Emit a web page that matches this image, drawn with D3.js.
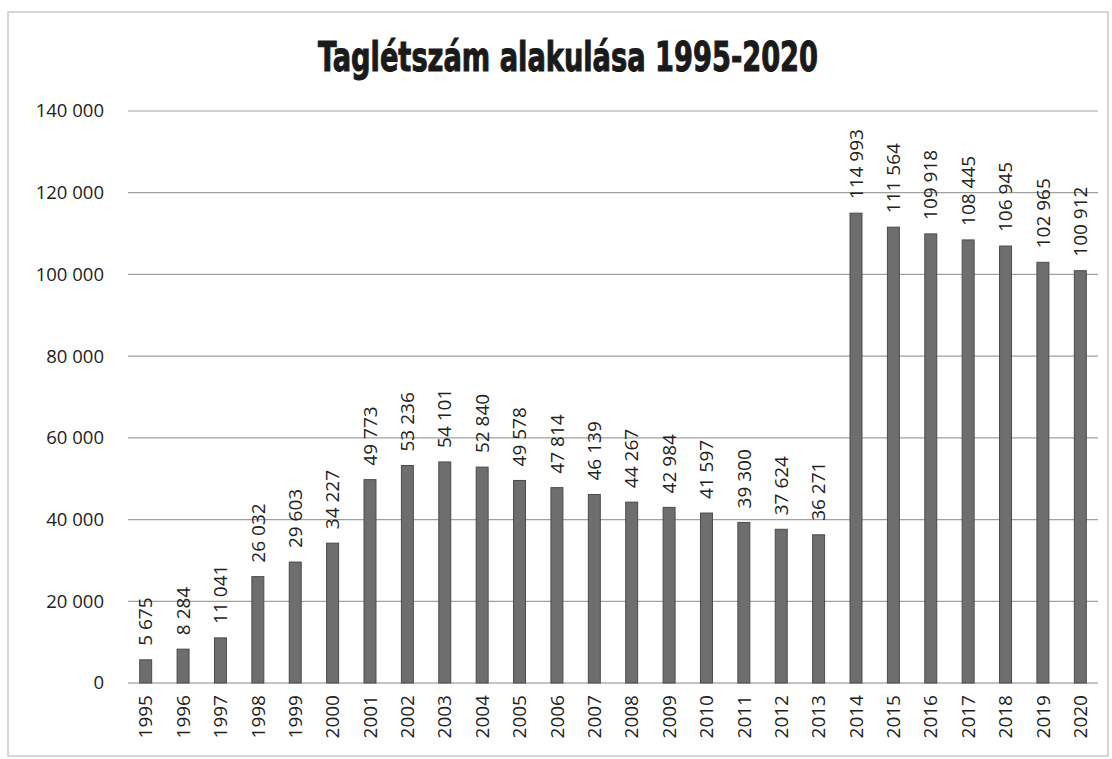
<!DOCTYPE html>
<html><head><meta charset="utf-8">
<script src="https://cdn.jsdelivr.net/npm/d3@7"></script>
<style>body{margin:0;background:#fff}svg{display:block}</style>
</head><body>
<svg id="c" width="1112" height="759"></svg>
<script>
const years = ["1995","1996","1997","1998","1999","2000","2001","2002","2003","2004","2005","2006","2007","2008","2009","2010","2011","2012","2013","2014","2015","2016","2017","2018","2019","2020"];
const members = [5675,8284,11041,26032,29603,34227,49773,53236,54101,52840,49578,47814,46139,44267,42984,41597,39300,37624,36271,114993,111564,109918,108445,106945,102965,100912];
const yTicks = [0,20000,40000,60000,80000,100000,120000,140000];
const title = "Taglétszám alakulása 1995-2020";

const svg = d3.select("#c");
const fmt = d3.formatLocale({decimal:",",thousands:" ",grouping:[3],currency:["",""]}).format(",d");
const font = "'Open Sans', 'Liberation Sans', sans-serif";

// frame
svg.append("rect").attr("x",8).attr("y",12).attr("width",1100).attr("height",744)
  .attr("fill","none").attr("stroke","#c8c8c8").attr("stroke-width",1.5);

const x = d3.scaleBand().domain(years).range([127,1099]).paddingInner(0.68).paddingOuter(0.34);
const y = d3.scaleLinear().domain([0,140000]).range([683,111]);

// gridlines
svg.append("g").selectAll("line").data(yTicks).join("line")
  .attr("x1",128).attr("x2",1098).attr("y1",d=>y(d)).attr("y2",d=>y(d))
  .attr("stroke",d=>d===0?"#8a8a8a":"#a0a0a0").attr("stroke-width",1.2);

// y axis labels
const ya = svg.append("g").attr("transform","translate(104,0)")
  .call(d3.axisLeft(y).tickValues(yTicks).tickFormat(fmt).tickSize(0).tickPadding(0));
ya.select(".domain").remove();
ya.selectAll("text").attr("font-family",font).attr("font-size",18.5).attr("fill","#222");

// bars
svg.append("g").selectAll("rect").data(members).join("rect")
  .attr("x",(d,i)=>x(years[i])).attr("width",x.bandwidth())
  .attr("y",d=>y(d)).attr("height",d=>y(0)-y(d))
  .attr("fill","#6e6e6e").attr("stroke","#4a4a4a").attr("stroke-width",1);

// value labels
svg.append("g").selectAll("text").data(members).join("text")
  .attr("transform",(d,i)=>`translate(${x(years[i])+x.bandwidth()/2},${y(d)-14}) rotate(-90)`)
  .attr("dy","0.35em")
  .attr("font-family",font).attr("font-size",19).attr("fill","#222")
  .text(d=>fmt(d));

// x axis labels
const xa = svg.append("g").attr("transform","translate(0,683)")
  .call(d3.axisBottom(x).tickSize(0).tickPadding(0));
xa.select(".domain").remove();
xa.selectAll("text").attr("font-family",font).attr("font-size",19).attr("fill","#222")
  .attr("transform","rotate(-90)").attr("text-anchor","end")
  .attr("x",-12).attr("y",0).attr("dy","0.35em");

// title
svg.append("text").attr("x",568).attr("y",71).attr("text-anchor","middle")
  .attr("font-family","'DejaVu Sans Condensed', 'Liberation Sans Narrow', sans-serif")
  .attr("font-weight","bold").attr("font-size",40).attr("fill","#1a1a1a")
  .attr("stroke","#1a1a1a").attr("stroke-width",1)
  .attr("textLength",500).attr("lengthAdjust","spacingAndGlyphs")
  .text(title);
</script>
</body></html>
